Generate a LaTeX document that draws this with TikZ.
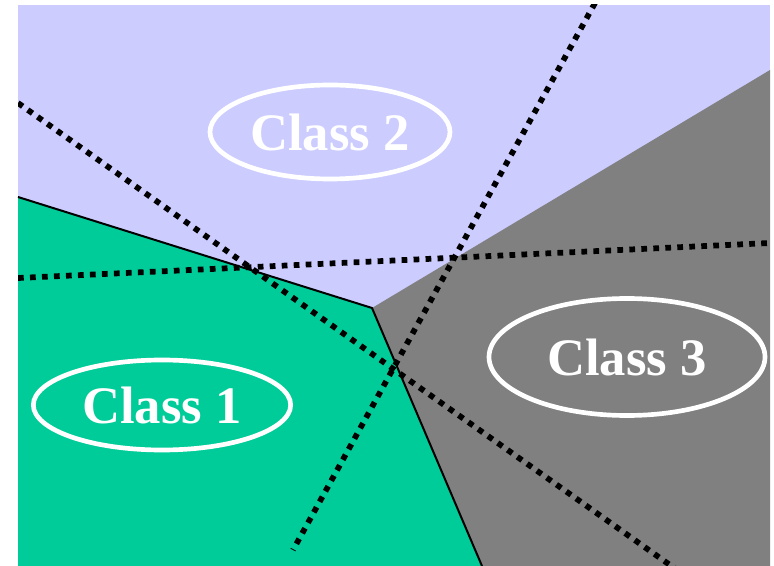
\documentclass[tikz,border=0pt]{standalone}
\usepackage{fontspec}
\setmainfont{Liberation Serif}
\usetikzlibrary{shapes.geometric}
\definecolor{lav}{HTML}{CCCCFF}
\definecolor{grn}{HTML}{00CC99}
\definecolor{gry}{HTML}{808080}
\tikzset{
  classlbl/.style={ellipse, draw=white, line width=3.5pt, inner sep=0pt, text=white,
    font=\fontsize{39.5}{39.5}\selectfont\bfseries},
  sepline/.style={line width=4.3pt, dash pattern=on 4.3pt off 4.7pt},
  border/.style={line width=1.5pt, line join=round}
}
\begin{document}
\begin{tikzpicture}[x=0.75pt, y=-0.75pt]
\useasboundingbox (0,0) rectangle (774,566);
% regions
\fill[lav] (18,5) rectangle (770,566);
\fill[grn] (18,197) -- (372,308) -- (482,566) -- (18,566) -- cycle;
\fill[gry] (372,308) -- (770,70) -- (770,566) -- (482,566) -- cycle;
\draw[border] (18,197) -- (372,308) -- (482,566);
% separating lines
\coordinate (a1) at (18,103);
\coordinate (a2) at (677,570);
\coordinate (b1) at (18,278);
\coordinate (b2) at (770,243);
\coordinate (c1) at (595,3);
\coordinate (c2) at (293,550);
\begin{scope}
\clip (18,5) rectangle (770,566);
\draw[sepline] (a1) -- (a2);
\draw[sepline] (b1) -- (b2);
\draw[sepline] (c1) -- (c2);
\end{scope}
% class labels
\node[classlbl, minimum width=180pt, minimum height=70.5pt] (k2) at (330,132) {Class 2};
\node[classlbl, minimum width=193pt, minimum height=67.5pt] (k1) at (162,405) {Class 1};
\node[classlbl, minimum width=207pt, minimum height=87.75pt] (k3) at (627,357) {Class 3};
\end{tikzpicture}
\end{document}
